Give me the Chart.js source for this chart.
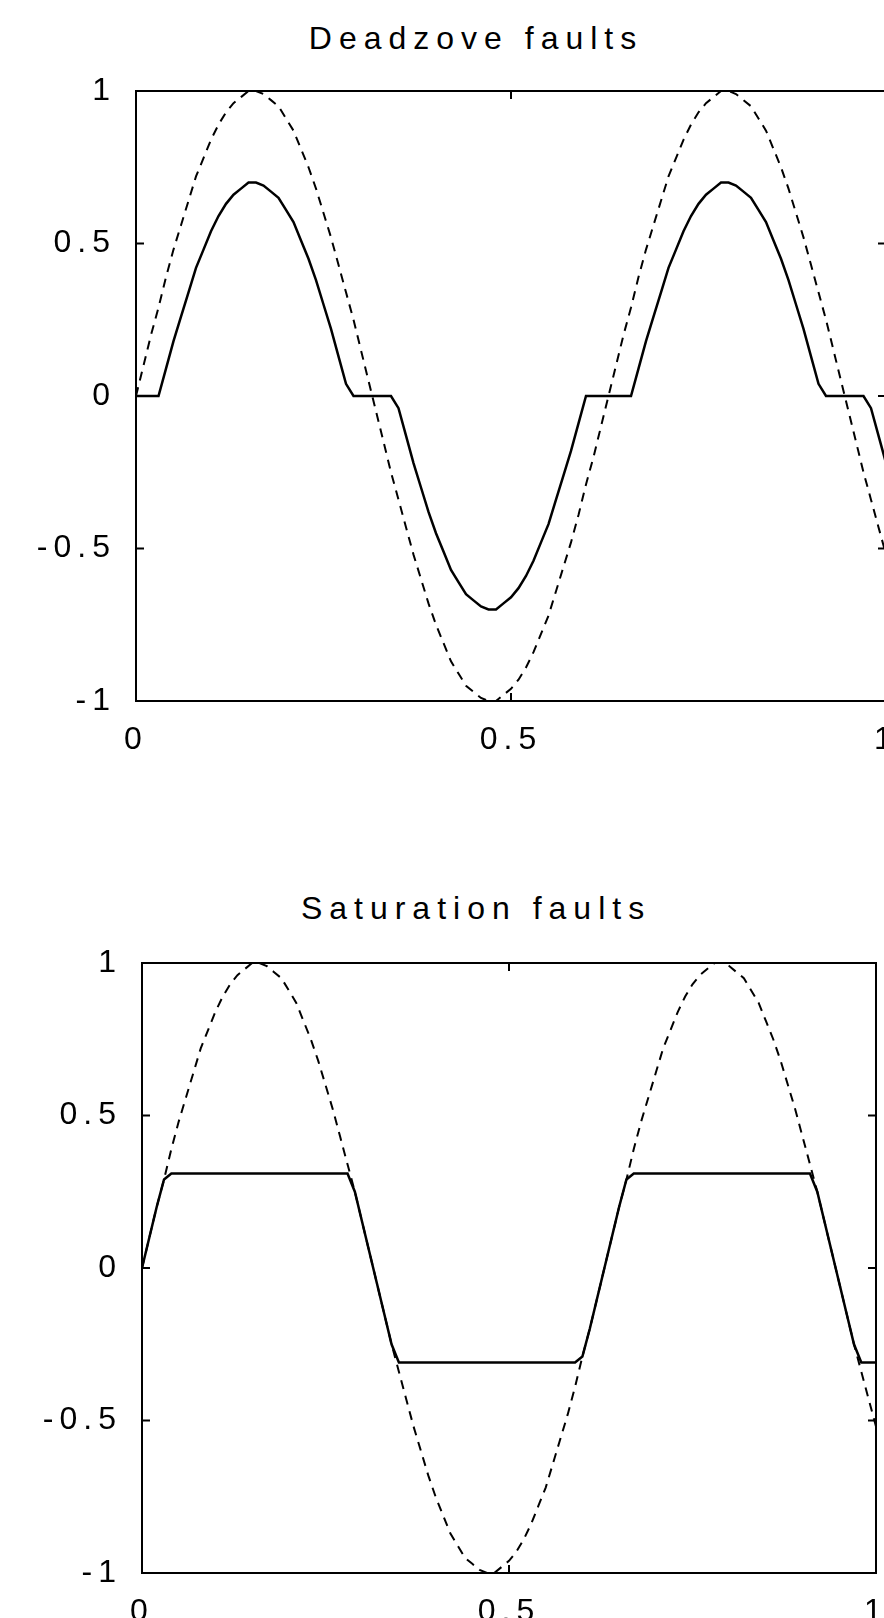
<!DOCTYPE html>
<html>
<head>
<meta charset="utf-8">
<title>Deadzone and saturation faults</title>
<script src="https://cdn.jsdelivr.net/npm/chart.js@4.4.1/dist/chart.umd.min.js"></script>
<style>
  html, body { margin: 0; padding: 0; background: #fff; overflow: hidden; }
  body { width: 884px; height: 1618px; position: relative; }
  .plot { position: absolute; left: 0; width: 900px; }
  .title {
    position: absolute;
    font-family: "Liberation Sans", Arial, sans-serif;
    font-size: 32px;
    letter-spacing: 7px;
    line-height: 40px;
    color: #000;
    white-space: nowrap;
    transform: translateX(-50%);
  }
</style>
</head>
<body>
<div class="title" style="left:476px; top:18px">Deadzove faults</div>
<div class="plot" style="top:0; height:800px"><canvas id="deadzoneChart"></canvas></div>
<div class="title" style="left:476px; top:888px">Saturation faults</div>
<div class="plot" style="top:820px; height:798px"><canvas id="saturationChart"></canvas></div>

<script>
const timeAxis = [
  0.00, 0.01, 0.02, 0.03, 0.04, 0.05, 0.06, 0.07, 0.08, 0.09,
  0.10, 0.11, 0.12, 0.13, 0.14, 0.15, 0.16, 0.17, 0.18, 0.19,
  0.20, 0.21, 0.22, 0.23, 0.24, 0.25, 0.26, 0.27, 0.28, 0.29,
  0.30, 0.31, 0.32, 0.33, 0.34, 0.35, 0.36, 0.37, 0.38, 0.39,
  0.40, 0.41, 0.42, 0.43, 0.44, 0.45, 0.46, 0.47, 0.48, 0.49,
  0.50, 0.51, 0.52, 0.53, 0.54, 0.55, 0.56, 0.57, 0.58, 0.59,
  0.60, 0.61, 0.62, 0.63, 0.64, 0.65, 0.66, 0.67, 0.68, 0.69,
  0.70, 0.71, 0.72, 0.73, 0.74, 0.75, 0.76, 0.77, 0.78, 0.79,
  0.80, 0.81, 0.82, 0.83, 0.84, 0.85, 0.86, 0.87, 0.88, 0.89,
  0.90, 0.91, 0.92, 0.93, 0.94, 0.95, 0.96, 0.97, 0.98, 0.99,
  1.00
];

// healthy signal (dashed in both plots)
const inputSignal = [
  0, 0.10, 0.20, 0.29, 0.39, 0.48, 0.56, 0.64, 0.72, 0.78,
  0.84, 0.89, 0.93, 0.96, 0.98, 1.00, 1.00, 0.99, 0.97, 0.95,
  0.91, 0.87, 0.81, 0.75, 0.68, 0.60, 0.52, 0.43, 0.34, 0.25,
  0.15, 0.05, -0.05, -0.15, -0.25, -0.34, -0.43, -0.52, -0.60, -0.68,
  -0.75, -0.81, -0.87, -0.91, -0.95, -0.97, -0.99, -1.00, -1.00, -0.98,
  -0.96, -0.93, -0.89, -0.84, -0.78, -0.72, -0.64, -0.56, -0.48, -0.39,
  -0.29, -0.20, -0.10, 0, 0.10, 0.20, 0.29, 0.39, 0.48, 0.56,
  0.64, 0.72, 0.78, 0.84, 0.89, 0.93, 0.96, 0.98, 1.00, 1.00,
  0.99, 0.97, 0.95, 0.91, 0.87, 0.81, 0.75, 0.68, 0.60, 0.52,
  0.43, 0.34, 0.25, 0.15, 0.05, -0.05, -0.15, -0.25, -0.34, -0.43,
  -0.52
];

const deadzoneOutput = [
  0, 0, 0, 0, 0.09, 0.18, 0.26, 0.34, 0.42, 0.48,
  0.54, 0.59, 0.63, 0.66, 0.68, 0.70, 0.70, 0.69, 0.67, 0.65,
  0.61, 0.57, 0.51, 0.45, 0.38, 0.30, 0.22, 0.13, 0.04, 0,
  0, 0, 0, 0, 0, -0.04, -0.13, -0.22, -0.30, -0.38,
  -0.45, -0.51, -0.57, -0.61, -0.65, -0.67, -0.69, -0.70, -0.70, -0.68,
  -0.66, -0.63, -0.59, -0.54, -0.48, -0.42, -0.34, -0.26, -0.18, -0.09,
  0, 0, 0, 0, 0, 0, 0, 0.09, 0.18, 0.26,
  0.34, 0.42, 0.48, 0.54, 0.59, 0.63, 0.66, 0.68, 0.70, 0.70,
  0.69, 0.67, 0.65, 0.61, 0.57, 0.51, 0.45, 0.38, 0.30, 0.22,
  0.13, 0.04, 0, 0, 0, 0, 0, 0, -0.04, -0.13,
  -0.22
];

const saturationOutput = [
  0, 0.10, 0.20, 0.29, 0.31, 0.31, 0.31, 0.31, 0.31, 0.31,
  0.31, 0.31, 0.31, 0.31, 0.31, 0.31, 0.31, 0.31, 0.31, 0.31,
  0.31, 0.31, 0.31, 0.31, 0.31, 0.31, 0.31, 0.31, 0.31, 0.25,
  0.15, 0.05, -0.05, -0.15, -0.25, -0.31, -0.31, -0.31, -0.31, -0.31,
  -0.31, -0.31, -0.31, -0.31, -0.31, -0.31, -0.31, -0.31, -0.31, -0.31,
  -0.31, -0.31, -0.31, -0.31, -0.31, -0.31, -0.31, -0.31, -0.31, -0.31,
  -0.29, -0.20, -0.10, 0, 0.10, 0.20, 0.29, 0.31, 0.31, 0.31,
  0.31, 0.31, 0.31, 0.31, 0.31, 0.31, 0.31, 0.31, 0.31, 0.31,
  0.31, 0.31, 0.31, 0.31, 0.31, 0.31, 0.31, 0.31, 0.31, 0.31,
  0.31, 0.31, 0.25, 0.15, 0.05, -0.05, -0.15, -0.25, -0.31, -0.31,
  -0.31
];

const xTicks = [0, 0.5, 1];
const yTicks = [-1, -0.5, 0, 0.5, 1];

const FONT = '"Liberation Sans", Arial, sans-serif';
const TICK_LEN = 8;

const toPoints = values => values.map((v, i) => ({ x: timeAxis[i], y: v }));

// spaced-out digits like the old plotting output
const spacedText = {
  id: 'spacedText',
  beforeDraw(chart) {
    chart.ctx.letterSpacing = '6px';
  }
};

// box around the axes with inward tick marks on all four sides
const axesBox = {
  id: 'axesBox',
  afterDatasetsDraw(chart) {
    const { ctx, chartArea: a, scales } = chart;
    ctx.save();
    ctx.strokeStyle = '#000';
    ctx.lineWidth = 2;
    ctx.strokeRect(a.left, a.top, a.right - a.left, a.bottom - a.top);
    ctx.beginPath();
    xTicks.slice(1, -1).forEach(v => {
      const px = scales.x.getPixelForValue(v);
      ctx.moveTo(px, a.bottom); ctx.lineTo(px, a.bottom - TICK_LEN);
      ctx.moveTo(px, a.top); ctx.lineTo(px, a.top + TICK_LEN);
    });
    yTicks.slice(1, -1).forEach(v => {
      const py = scales.y.getPixelForValue(v);
      ctx.moveTo(a.left, py); ctx.lineTo(a.left + TICK_LEN, py);
      ctx.moveTo(a.right, py); ctx.lineTo(a.right - TICK_LEN, py);
    });
    ctx.stroke();
    ctx.restore();
  }
};

function makePlot(canvasId, output, frame) {
  return new Chart(document.getElementById(canvasId), {
    type: 'line',
    data: {
      datasets: [{
        label: 'faulty',
        data: toPoints(output),
        borderColor: '#000',
        borderWidth: 2.5,
        pointRadius: 0,
        tension: 0
      }, {
        label: 'healthy',
        data: toPoints(inputSignal),
        borderColor: '#000',
        borderWidth: 2,
        borderDash: [9, 7],
        pointRadius: 0,
        tension: 0
      }]
    },
    options: {
      responsive: true,
      maintainAspectRatio: false,
      animation: false,
      layout: { padding: { left: 0, top: frame.top, right: frame.right, bottom: 0 } },
      plugins: {
        legend: { display: false },
        tooltip: { enabled: false }
      },
      scales: {
        x: {
          type: 'linear',
          min: 0,
          max: 1,
          afterBuildTicks: s => { s.ticks = xTicks.map(v => ({ value: v })); },
          afterFit: s => {
            s.height = frame.xHeight;
            s.paddingLeft = 0;
            s.paddingRight = 0;
          },
          grid: { display: false },
          border: { display: false },
          ticks: {
            color: '#000',
            font: { family: FONT, size: 32 },
            padding: 12,
            maxRotation: 0,
            callback: v => String(v)
          }
        },
        y: {
          min: -1,
          max: 1,
          afterBuildTicks: s => { s.ticks = yTicks.map(v => ({ value: v })); },
          afterFit: s => {
            s.width = frame.left;
            s.paddingTop = 0;
            s.paddingBottom = 0;
          },
          grid: { display: false },
          border: { display: false },
          ticks: {
            color: '#000',
            font: { family: FONT, size: 32 },
            padding: 12,
            callback: v => String(v)
          }
        }
      }
    },
    plugins: [spacedText, axesBox]
  });
}

makePlot('deadzoneChart', deadzoneOutput, { left: 136, top: 91, right: 14, xHeight: 99 });
makePlot('saturationChart', saturationOutput, { left: 142, top: 143, right: 24, xHeight: 45 });
</script>
</body>
</html>
